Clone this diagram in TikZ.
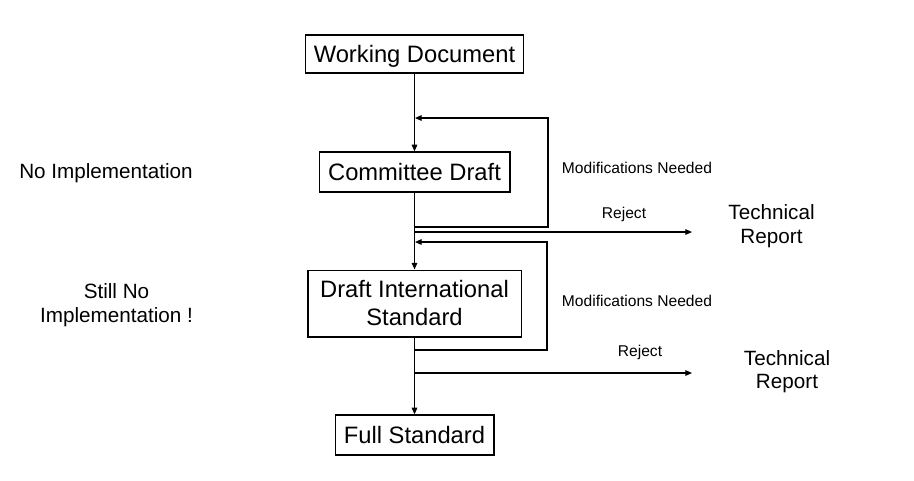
\documentclass[tikz,border=0pt]{standalone}
\usepackage{fontspec}
\setmainfont{Liberation Sans}
\usetikzlibrary{arrows.meta}
\begin{document}
\begin{tikzpicture}[x=0.75pt,y=-0.75pt,
  box/.style={draw,line width=1pt,inner sep=0pt,align=center,font=\fontsize{17.8}{21}\selectfont},
  side/.style={inner sep=0pt,align=center,font=\fontsize{15.5}{18}\selectfont},
  lab/.style={inner sep=0pt,font=\fontsize{11.7}{14}\selectfont},
  conn/.style={line width=0.9pt,line join=miter},
  arr/.style={conn,-{Triangle[length=5pt,width=4.2pt]}}]
\useasboundingbox (0,0) rectangle (914,480);
\node[box,minimum width=163.5pt,minimum height=28.5pt,text depth=0pt] (wd) at (414.5,54) {Working Document};
\node[box,minimum width=143pt,minimum height=30pt,text depth=0pt] (cd) at (414.5,172) {Committee Draft};
\node[box,minimum width=160pt,minimum height=50pt] (dis) at (414.5,303.5) {Draft International\\Standard};
\node[box,minimum width=119pt,minimum height=30pt,text depth=0pt] (fs) at (414.5,435) {Full Standard};
% coordinates
\coordinate (m1) at (415,118);
\coordinate (k1) at (548,118);
\coordinate (s1) at (415,227);
\coordinate (r1) at (415,232);
\coordinate (e1) at (692,232);
\coordinate (m2) at (415,242);
\coordinate (k2) at (547,242);
\coordinate (s2) at (415,350);
\coordinate (r2) at (415,373);
\coordinate (e2) at (692,373);
% main flow
\draw[arr] (wd) -- (cd);
\draw[arr] (cd) -- (dis);
\draw[arr] (dis) -- (fs);
% loops
\draw[arr] (s1) -| (k1) -- (m1);
\draw[arr] (r1) -- (e1);
\draw[arr] (s2) -| (k2) -- (m2);
\draw[arr] (r2) -- (e2);
% labels
\node[lab] (mn1) at (637,168) {Modifications Needed};
\node[lab] (rj1) at (624,214) {Reject};
\node[side,font=\fontsize{15.5}{17.5}\selectfont] (tr1) at (771.5,226) {Technical\\Report};
\node[lab] (mn2) at (637,301) {Modifications Needed};
\node[lab] (rj2) at (640,352) {Reject};
\node[side,font=\fontsize{15.5}{17.5}\selectfont] (tr2) at (787,371.5) {Technical\\Report};
\node[side] (ni) at (106,173.5) {No Implementation};
\node[side] (sni) at (116.5,305.5) {Still No\\Implementation !};
\end{tikzpicture}
\end{document}
